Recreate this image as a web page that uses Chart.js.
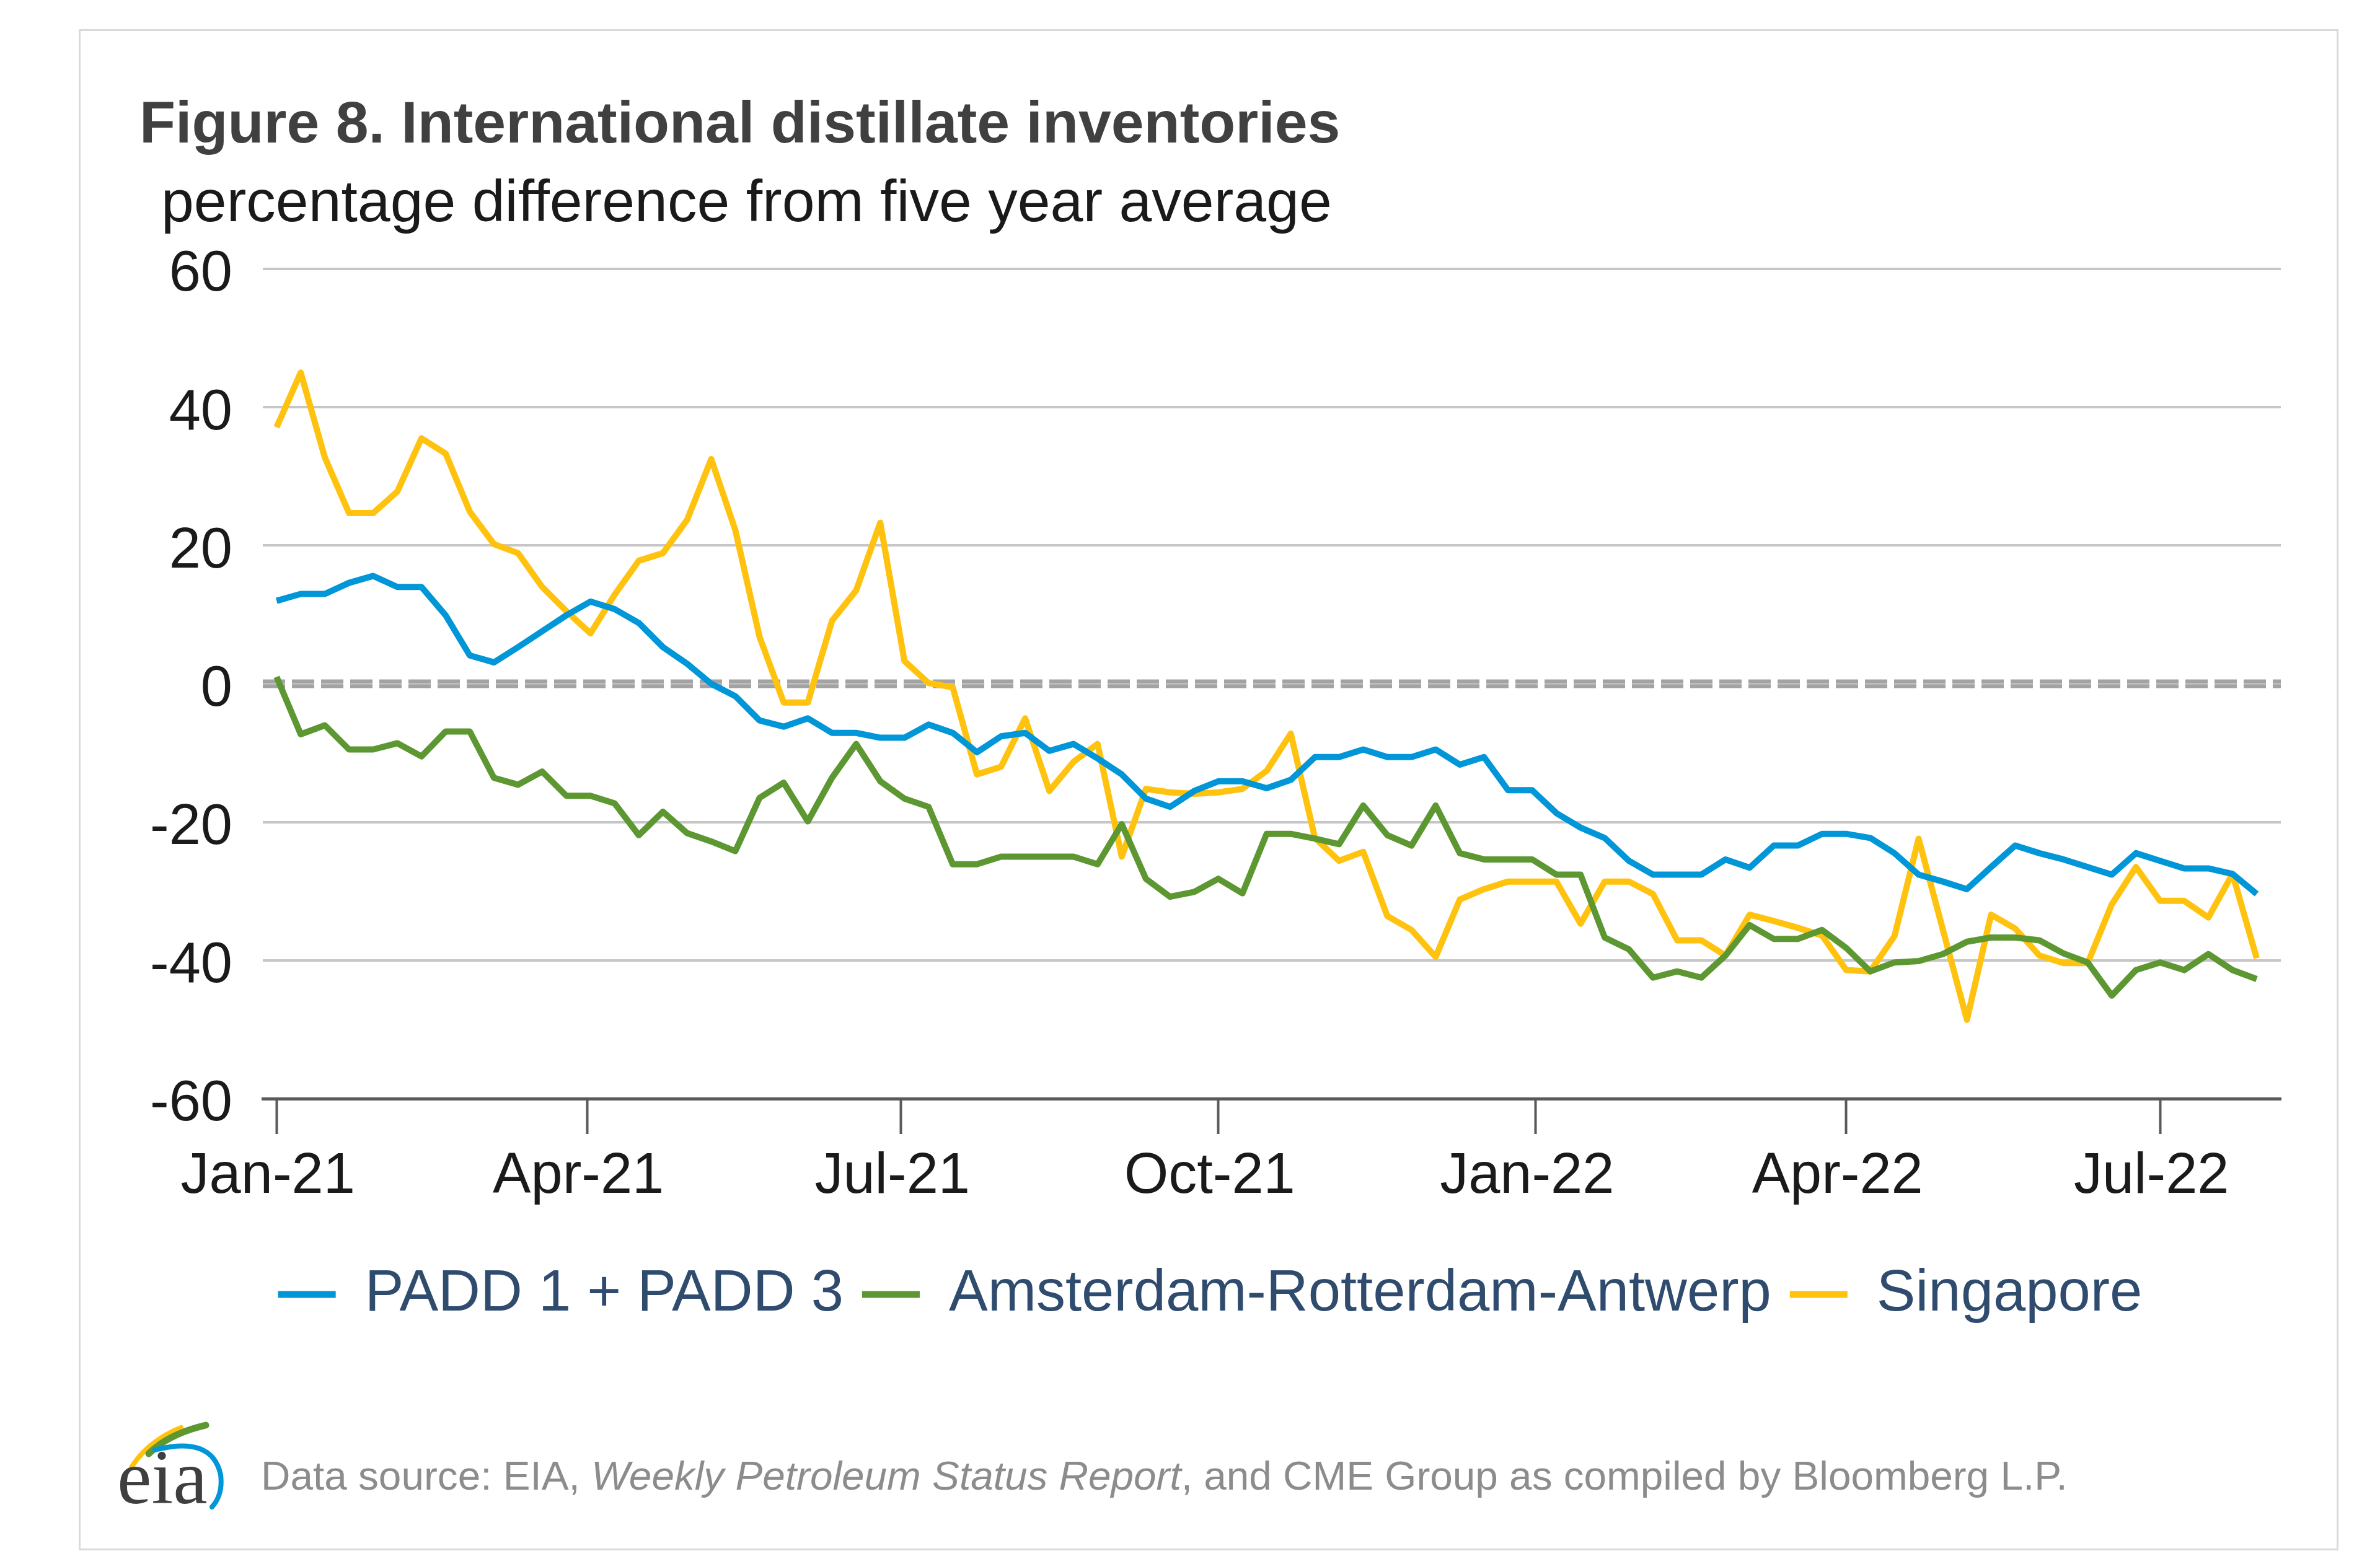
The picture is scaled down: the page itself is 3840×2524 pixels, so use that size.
<!DOCTYPE html>
<html>
<head>
<meta charset="utf-8">
<script src="https://cdn.jsdelivr.net/npm/chart.js@4.4.1/dist/chart.umd.min.js"></script>
<style>
html,body{margin:0;padding:0;background:#ffffff;}
body{width:3840px;height:2524px;position:relative;overflow:hidden;font-family:"Liberation Sans",Arial,sans-serif;}
#frame{position:absolute;left:127px;top:47px;width:3646px;height:2455px;border:3px solid #d9d9d9;box-sizing:border-box;}
.txt{position:absolute;white-space:nowrap;line-height:1;}
#title{left:225px;top:150px;font-size:95px;font-weight:bold;color:#404040;}
#subtitle{left:260px;top:277px;font-size:95px;color:#1a1a1a;}
#source{left:421px;top:2349px;font-size:65.7px;color:#8c8c8c;}
#logoText{left:189px;top:2322px;font-size:125px;color:#3f3f3f;font-family:"Liberation Serif","DejaVu Serif",serif;}
#logoArcs{position:absolute;left:0;top:0;}
canvas{position:absolute;left:0;top:0;}
</style>
</head>
<body>
<div id="frame"></div>
<div id="title" class="txt">Figure 8. International distillate inventories</div>
<div id="subtitle" class="txt">percentage difference from five year average</div>
<svg id="logoArcs" width="3840" height="2524">
  <path d="M 212 2368 Q 238 2326 292 2304" stroke="#ffc20e" stroke-width="8" fill="none" stroke-linecap="round"/>
  <path d="M 240 2346 Q 272 2314 332 2300" stroke="#5d9732" stroke-width="11" fill="none" stroke-linecap="round"/>
  <path d="M 250 2340 Q 342 2316 356 2380 Q 360 2412 342 2432" stroke="#0096d7" stroke-width="8" fill="none" stroke-linecap="round"/>
</svg>
<div id="logoText" class="txt">eia</div>
<div id="source" class="txt">Data source: EIA, <i>Weekly Petroleum Status Report</i>, and CME Group as compiled by Bloomberg L.P.</div>
<canvas id="c" width="3840" height="2524"></canvas>
<script>
// ---- Data ----
const weekDates = [
 '2021-01-01','2021-01-08','2021-01-15','2021-01-22','2021-01-29','2021-02-05','2021-02-12','2021-02-19','2021-02-26',
 '2021-03-05','2021-03-12','2021-03-19','2021-03-26','2021-04-02','2021-04-09','2021-04-16','2021-04-23','2021-04-30',
 '2021-05-07','2021-05-14','2021-05-21','2021-05-28','2021-06-04','2021-06-11','2021-06-18','2021-06-25','2021-07-02',
 '2021-07-09','2021-07-16','2021-07-23','2021-07-30','2021-08-06','2021-08-13','2021-08-20','2021-08-27','2021-09-03',
 '2021-09-10','2021-09-17','2021-09-24','2021-10-01','2021-10-08','2021-10-15','2021-10-22','2021-10-29','2021-11-05',
 '2021-11-12','2021-11-19','2021-11-26','2021-12-03','2021-12-10','2021-12-17','2021-12-24','2021-12-31',
 '2022-01-07','2022-01-14','2022-01-21','2022-01-28','2022-02-04','2022-02-11','2022-02-18','2022-02-25','2022-03-04',
 '2022-03-11','2022-03-18','2022-03-25','2022-04-01','2022-04-08','2022-04-15','2022-04-22','2022-04-29','2022-05-06',
 '2022-05-13','2022-05-20','2022-05-27','2022-06-03','2022-06-10','2022-06-17','2022-06-24','2022-07-01','2022-07-08',
 '2022-07-15','2022-07-22','2022-07-29'
];
const padd = [
 12,13,13,14.6,15.6,14,14,9.9,4.1,3.1,5.3,7.6,9.9,11.9,10.8,8.8,5.3,2.9,0,-1.8,
 -5.3,-6.2,-5,-7.1,-7.1,-7.8,-7.8,-5.9,-7.1,-9.9,-7.6,-7.1,-9.7,-8.7,-10.8,-13.1,-16.6,-17.8,-15.5,-14.1,
 -14.1,-15.1,-13.9,-10.6,-10.6,-9.5,-10.6,-10.6,-9.5,-11.7,-10.6,-15.4,-15.4,-18.7,-20.8,-22.3,-25.6,-27.6,-27.6,-27.6,
 -25.4,-26.6,-23.4,-23.4,-21.7,-21.7,-22.3,-24.5,-27.6,-28.6,-29.7,-26.5,-23.4,-24.5,-25.4,-26.5,-27.6,-24.5,-25.6,-26.7,
 -26.7,-27.5,-30.4
];
const ara = [
 1,-7.3,-6,-9.5,-9.5,-8.6,-10.5,-6.9,-6.9,-13.6,-14.6,-12.7,-16.2,-16.2,-17.3,-21.9,-18.5,-21.6,-22.8,-24.2,
 -16.5,-14.3,-19.9,-13.6,-8.7,-14.1,-16.6,-17.8,-26.1,-26.1,-25,-25,-25,-25,-26.1,-20.3,-28.2,-30.8,-30.1,-28.2,
 -30.3,-21.7,-21.7,-22.4,-23.2,-17.6,-21.9,-23.4,-17.6,-24.5,-25.4,-25.4,-25.4,-27.6,-27.6,-36.7,-38.4,-42.5,-41.6,-42.5,
 -39.3,-34.9,-36.9,-36.9,-35.6,-38.2,-41.6,-40.3,-40.1,-39.1,-37.3,-36.7,-36.7,-37.1,-39,-40.3,-45.1,-41.4,-40.3,-41.4,
 -39.1,-41.4,-42.7
];
const singapore = [
 37.1,45,32.7,24.7,24.7,27.8,35.5,33.3,24.9,20.2,18.9,14,10.5,7.3,12.9,17.8,18.9,23.7,32.5,22.2,
 6.8,-2.7,-2.7,9.1,13.5,23.3,3.3,0.1,-0.5,-13.1,-12,-5,-15.5,-11.3,-8.7,-25,-15.2,-15.7,-15.9,-15.7,
 -15.2,-12.6,-7.2,-22.3,-25.6,-24.3,-33.6,-35.6,-39.5,-31.2,-29.7,-28.6,-28.6,-28.6,-34.7,-28.6,-28.6,-30.4,-37.1,-37.1,
 -39.3,-33.4,-34.3,-35.3,-36.4,-41.4,-41.6,-36.5,-22.4,-35.5,-48.6,-33.4,-35.4,-39.3,-40.4,-40.4,-31.9,-26.5,-31.4,-31.4,
 -33.8,-27.5,-39.7
];
const seriesNames = ['PADD 1 + PADD 3', 'Amsterdam-Rotterdam-Antwerp', 'Singapore'];
const tickDates = ['2021-01-01','2021-04-01','2021-07-01','2021-10-01','2022-01-01','2022-04-01','2022-07-01'];
const tickLabels = ['Jan-21','Apr-21','Jul-21','Oct-21','Jan-22','Apr-22','Jul-22'];

// ---- helpers ----
const ORIGIN = Date.UTC(2021, 0, 1);
function dayOf(s){ const p = s.split('-').map(Number); return (Date.UTC(p[0], p[1]-1, p[2]) - ORIGIN) / 86400000; }
const tickDays = tickDates.map(dayOf);
function pts(arr){ return arr.map((v, i) => ({x: dayOf(weekDates[i]), y: v})); }

Chart.defaults.font.family = '"Liberation Sans", Arial, sans-serif';

const zeroLine = {
  id: 'zeroLine',
  beforeDatasetsDraw(chart){
    const {ctx, chartArea, scales} = chart;
    const y = scales.y.getPixelForValue(0);
    ctx.save();
    ctx.setLineDash([36, 11]);
    ctx.lineWidth = 14;
    ctx.strokeStyle = '#a3a3a3';
    ctx.beginPath(); ctx.moveTo(chartArea.left, y); ctx.lineTo(chartArea.right, y); ctx.stroke();
    ctx.lineWidth = 2;
    ctx.strokeStyle = '#c8c8c8';
    ctx.beginPath(); ctx.moveTo(chartArea.left, y); ctx.lineTo(chartArea.right, y); ctx.stroke();
    ctx.restore();
  }
};

const colors = ['#0096d7', '#5d9732', '#ffc20e'];
const seriesData = [padd, ara, singapore];

new Chart(document.getElementById('c'), {
  type: 'line',
  data: {
    datasets: seriesData.map((arr, k) => ({
      label: seriesNames[k],
      data: pts(arr),
      borderColor: colors[k],
      backgroundColor: colors[k],
      borderWidth: 10,
      pointRadius: 0,
      tension: 0,
      fill: false,
      borderJoinStyle: 'round'
    }))
  },
  options: {
    responsive: false,
    animation: false,
    devicePixelRatio: 1,
    layout: { padding: { left: 225, top: 434, right: 160, bottom: 378 } },
    plugins: {
      tooltip: { enabled: false },
      title: { display: false },
      legend: {
        position: 'bottom',
        labels: {
          boxWidth: 93, boxHeight: 11, padding: 30,
          color: '#2f4b6e',
          font: { size: 94 },
          generateLabels(chart){
            return Chart.defaults.plugins.legend.labels.generateLabels(chart).map(l => Object.assign(l, {lineWidth: 0}));
          }
        }
      }
    },
    scales: {
      x: {
        type: 'linear',
        min: -4, max: 581,
        afterBuildTicks(scale){ scale.ticks = tickDays.map(v => ({value: v})); },
        afterFit(scale){ scale.height = 239; },
        ticks: {
          autoSkip: false, maxRotation: 0, minRotation: 0,
          font: { size: 92 }, color: '#1a1a1a', padding: 14, labelOffset: -14,
          callback(value){ const i = tickDays.indexOf(value); return i >= 0 ? tickLabels[i] : ''; }
        },
        grid: { drawOnChartArea: false, drawTicks: true, tickLength: 57, tickColor: '#595959', tickWidth: 4 },
        border: { display: true, color: '#595959', width: 5 }
      },
      y: {
        min: -60, max: 60,
        afterFit(scale){ scale.width = 199; },
        ticks: { stepSize: 20, font: { size: 92 }, color: '#1a1a1a', padding: 49, labelOffset: 10 },
        grid: { drawTicks: false, lineWidth: 4, color: (c) => (c.tick && c.tick.value === 0) ? 'rgba(0,0,0,0)' : '#c6c6c6' },
        border: { display: false }
      }
    }
  },
  plugins: [zeroLine]
});
</script>
</body>
</html>
